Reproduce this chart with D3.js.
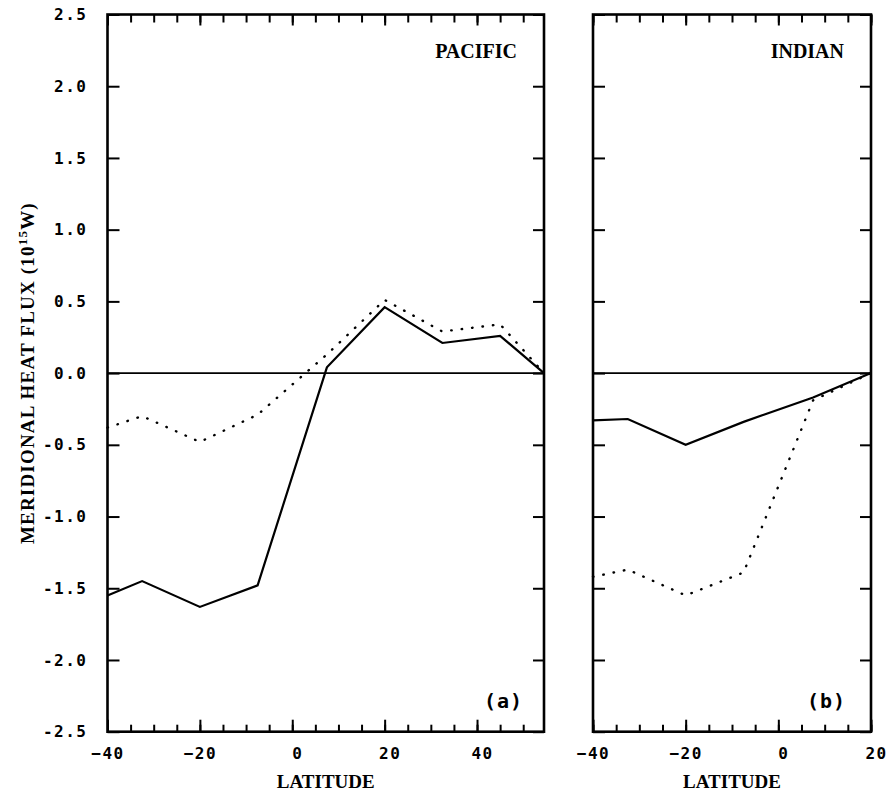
<!DOCTYPE html>
<html>
<head>
<meta charset="utf-8">
<script src="https://cdn.jsdelivr.net/npm/d3@7"></script>
<style>
  body { margin: 0; background: #fff; }
  svg { display: block; }
</style>
</head>
<body>
<svg></svg>
<script>
// data
////////////////////////////////////////////////////////////////
const pacificLats = [-40, -32.5, -20, -7.5, 7.5, 20, 32.5, 45, 54.5];
const pacificSolid = [-1.55, -1.45, -1.63, -1.48, 0.04, 0.46, 0.21, 0.26, 0.0];
const pacificDotted = [-0.38, -0.30, -0.48, -0.29, 0.13, 0.51, 0.29, 0.34, 0.0];

const indianLats = [-40, -32.5, -20, -7.5, 7.5, 20];
const indianSolid = [-0.33, -0.32, -0.50, -0.34, -0.17, 0.0];
const indianDotted = [-1.42, -1.37, -1.55, -1.39, -0.19, 0.0];

const yTicks = [2.5, 2.0, 1.5, 1.0, 0.5, 0.0, -0.5, -1.0, -1.5, -2.0, -2.5];
const pacificMajor = [-40, -20, 0, 20, 40];
const indianMajor = [-40, -20, 0, 20];

// make chart
////////////////////////////////////////////////////////////////
let width = 888
let height = 793
let plotTop = 14.5
let plotBottom = 731.7

let svg = d3.select('svg')
  .attr('width', width)
  .attr('height', height)

let monoFont = '"DejaVu Sans Mono", "Liberation Mono", monospace'
let serifFont = '"Liberation Serif", "DejaVu Serif", serif'

let yScale = d3.scaleLinear()
  .domain([-2.5, 2.5])
  .range([plotBottom, plotTop])

let fmt = (d) => d.toFixed(1)

let drawPanel = (cfg) => {
  let x = d3.scaleLinear()
    .domain(cfg.domain)
    .range([cfg.left, cfg.right])

  let g = svg.append('g')

  let minor = d3.range(cfg.domain[0], cfg.domain[1] + 0.01, 5)

  // bottom ticks, minor then major with labels
  g.append('g')
    .attr('transform', `translate(0, ${plotBottom})`)
    .call(d3.axisBottom(x).tickValues(minor).tickSizeInner(-7).tickSizeOuter(0).tickFormat(''))
  let bAxis = g.append('g')
    .attr('transform', `translate(0, ${plotBottom})`)
    .call(d3.axisBottom(x).tickValues(cfg.major).tickSizeInner(-12).tickSizeOuter(0).tickPadding(16))
  bAxis.selectAll('text')
    .attr('dx', (d) => d >= 0 ? 5 : 0)
    .style('font-family', monoFont)
    .style('font-weight', 'bold')
    .style('font-size', '16px')
    .style('letter-spacing', '1.5px')
    .style('fill', '#000')

  // top ticks
  g.append('g')
    .attr('transform', `translate(0, ${plotTop})`)
    .call(d3.axisTop(x).tickValues(minor).tickSizeInner(-8).tickSizeOuter(0).tickFormat(''))
  g.append('g')
    .attr('transform', `translate(0, ${plotTop})`)
    .call(d3.axisTop(x).tickValues(cfg.major).tickSizeInner(-11).tickSizeOuter(0).tickFormat(''))

  // left ticks
  let lAxis = g.append('g')
    .attr('transform', `translate(${cfg.left}, 0)`)
    .call(d3.axisLeft(yScale).tickValues(yTicks).tickSizeInner(-12).tickSizeOuter(0).tickPadding(20)
      .tickFormat(cfg.yLabels ? fmt : ''))
  lAxis.selectAll('text')
    .style('font-family', monoFont)
    .style('font-weight', 'bold')
    .style('font-size', '16px')
    .style('letter-spacing', '1.5px')
    .style('fill', '#000')

  // right ticks
  g.append('g')
    .attr('transform', `translate(${cfg.right}, 0)`)
    .call(d3.axisRight(yScale).tickValues(yTicks).tickSizeInner(-11).tickSizeOuter(0).tickFormat(''))

  g.selectAll('.domain').remove()
  g.selectAll('.tick line')
    .style('stroke', '#000')
    .style('stroke-width', '2px')

  // zero line
  g.append('line')
    .attr('x1', cfg.left)
    .attr('x2', cfg.right)
    .attr('y1', yScale(0))
    .attr('y2', yScale(0))
    .style('stroke', '#000')
    .style('stroke-width', '1.6px')

  let line = d3.line()
    .x((d) => x(d[0]))
    .y((d) => yScale(d[1]))

  g.append('path')
    .datum(cfg.lats.map((l, i) => [l, cfg.dotted[i]]))
    .attr('d', line)
    .style('fill', 'none')
    .style('stroke', '#000')
    .style('stroke-width', '2.4px')
    .style('stroke-linecap', 'round')
    .style('stroke-dasharray', '0.5 10')

  g.append('path')
    .datum(cfg.lats.map((l, i) => [l, cfg.solid[i]]))
    .attr('d', line)
    .style('fill', 'none')
    .style('stroke', '#000')
    .style('stroke-width', '2.2px')
    .style('stroke-linejoin', 'miter')

  // frame
  g.append('rect')
    .attr('x', cfg.left)
    .attr('y', plotTop)
    .attr('width', cfg.right - cfg.left)
    .attr('height', plotBottom - plotTop)
    .style('fill', 'none')
    .style('stroke', '#000')
    .style('stroke-width', '2.6px')

  // ocean name
  g.append('text')
    .attr('x', cfg.right - 27)
    .attr('y', 58)
    .style('text-anchor', 'end')
    .style('font-family', serifFont)
    .style('font-weight', 'bold')
    .style('font-size', '20px')
    .text(cfg.name)

  // panel letter
  g.append('text')
    .attr('x', cfg.right - cfg.tagInset)
    .attr('y', 708)
    .style('text-anchor', 'end')
    .style('font-family', monoFont)
    .style('font-weight', 'bold')
    .style('font-size', '20px')
    .style('letter-spacing', '1px')
    .text(cfg.tag)

  // x title
  g.append('text')
    .attr('x', (cfg.left + cfg.right) / 2)
    .attr('y', 788)
    .style('text-anchor', 'middle')
    .style('font-family', serifFont)
    .style('font-weight', 'bold')
    .style('font-size', '19px')
    .text('LATITUDE')
}

drawPanel({
  domain: [-40, 54.5], left: 107.5, right: 544,
  major: pacificMajor, lats: pacificLats,
  solid: pacificSolid, dotted: pacificDotted,
  name: 'PACIFIC', tag: '(a)', tagInset: 21, yLabels: true
})

drawPanel({
  domain: [-40, 20], left: 593, right: 871,
  major: indianMajor, lats: indianLats,
  solid: indianSolid, dotted: indianDotted,
  name: 'INDIAN', tag: '(b)', tagInset: 25, yLabels: false
})

// y title
let yTitle = svg.append('text')
  .attr('transform', `translate(34, ${(plotTop + plotBottom) / 2}) rotate(-90)`)
  .style('text-anchor', 'middle')
  .style('font-family', serifFont)
  .style('font-weight', 'bold')
  .style('font-size', '19px')
  .style('letter-spacing', '1.2px')
yTitle.append('tspan').text('MERIDIONAL HEAT FLUX (10')
yTitle.append('tspan').attr('dy', -7).style('font-size', '13px').text('15')
yTitle.append('tspan').attr('dy', 7).text('W)')
</script>
</body>
</html>
